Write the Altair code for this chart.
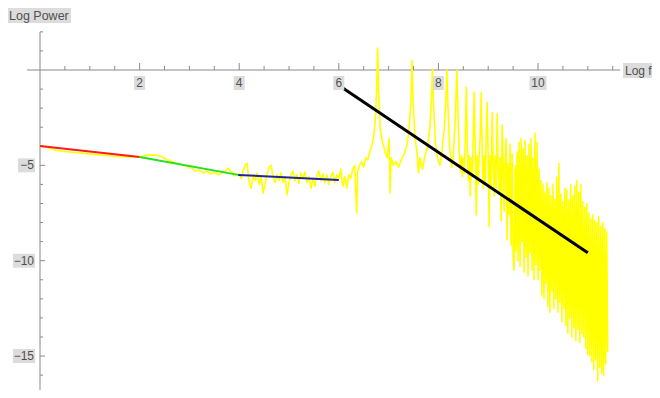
import altair as alt
import pandas as pd
import numpy as np

# ---------------- data ----------------
# yellow spectrum, part 1: low frequencies (x, y pairs)
spec1_x = [0.0, 0.1, 0.2, 0.3, 0.45, 0.6, 0.75, 0.9, 1.05, 1.2, 1.35, 1.5, 1.65, 1.8, 1.95,
           2.05, 2.15, 2.25, 2.35, 2.45, 2.55, 2.65, 2.75, 2.85, 2.95, 3.05, 3.12, 3.2, 3.28,
           3.35, 3.42, 3.5, 3.58, 3.65, 3.72, 3.78, 3.84, 3.9, 3.95]
spec1_y = [-3.95, -4.02, -4.12, -4.2, -4.26, -4.3, -4.34, -4.37, -4.41, -4.45, -4.48, -4.52, -4.54, -4.56, -4.56,
           -4.52, -4.47, -4.45, -4.47, -4.55, -4.7, -4.8, -4.9, -4.97, -5.05, -5.15, -5.3, -5.25, -5.4,
           -5.3, -5.45, -5.35, -5.5, -5.4, -5.3, -5.15, -5.35, -5.55, -5.45]

# part 2: noisy plateau, x from 4.00 step 0.04
spec2_start, spec2_step = 4.00, 0.04
spec2_y = [-5.45, -5.7, -5.3, -5.0, -4.9, -5.9, -6.2, -5.5, -5.8, -5.4, -6.0, -5.6, -6.45, -6.0, -5.4,
           -5.1, -5.0, -5.6, -5.9, -5.5, -5.8, -5.4, -5.9, -5.6, -6.55, -5.9, -5.5, -5.3, -5.8, -5.5,
           -5.95, -5.4, -5.7, -5.35, -5.9, -5.6, -6.2, -5.7, -6.1, -5.5, -5.3, -5.8, -5.45, -5.9, -5.5,
           -6.0, -5.6, -5.35, -5.9, -5.5, -5.7]

# part 3: harmonic peaks (x, y pairs)
spec3_x = [6.04, 6.08, 6.12, 6.16, 6.20, 6.24, 6.28, 6.32, 6.36, 6.38, 6.42, 6.46, 6.50, 6.54, 6.58,
           6.62, 6.66, 6.70, 6.73, 6.76, 6.78, 6.80, 6.83, 6.87, 6.92, 6.97, 7.01, 7.03, 7.05, 7.10,
           7.15, 7.20, 7.25, 7.30, 7.36, 7.41, 7.45, 7.47, 7.49, 7.53, 7.57, 7.60, 7.63, 7.68, 7.73,
           7.78, 7.83, 7.86, 7.88, 7.90, 7.94, 7.99, 8.03, 8.07, 8.12, 8.15, 8.17, 8.19, 8.23, 8.27,
           8.30, 8.34, 8.37, 8.39]
spec3_y = [-5.2, -6.1, -5.6, -6.2, -5.5, -5.7, -5.2, -5.0, -7.5, -5.3, -5.0, -4.8, -5.1, -4.6, -4.7,
           -4.3, -4.0, -3.5, -2.8, -1.0, 1.15, -1.2, -3.0, -3.7, -4.2, -4.6, -3.6, -6.45, -4.6, -5.0,
           -4.8, -5.1, -4.7, -4.5, -4.0, -3.2, -1.5, 0.5, -1.5, -3.6, -4.3, -5.4, -4.6, -5.2, -4.5,
           -4.0, -3.0, -1.5, 0.05, -1.6, -3.8, -4.7, -5.0, -4.3, -3.0, -1.5, 0.0, -1.8, -4.2, -5.1,
           -4.5, -2.5, 0.0, -2.0]

# part 4: dense high-frequency band, x from 8.42 step 0.02
spec4_start, spec4_step = 8.42, 0.02
spec4_y = [-4.4, -5.3, -4.5, -5.6, -4.6, -5.4, -3.6, -0.9, -3.8, -5.8,
           -4.5, -6.6, -4.6, -5.6, -3.5, -1.15, -4.2, -7.6, -4.5, -6.0,
           -4.4, -3.4, -1.2, -4.3, -6.2, -4.5, -6.0, -3.5, -1.7, -4.6,
           -8.2, -4.5, -6.1, -2.25, -4.6, -6.6, -4.5, -6.2, -2.3, -5.0,
           -6.4, -4.6, -7.9, -2.9, -5.0, -7.4, -4.8, -3.6, -8.9, -4.9,
           -7.6, -3.9, -9.2, -4.4, -9.8, -10.5, -5.0, -9.5, -4.3, -10.0,
           -3.8, -10.3, -3.6, -9.0, -4.1, -10.6, -3.7, -9.8, -4.5, -10.8,
           -3.9, -9.6, -3.6, -10.5, -4.6, -11.0, -3.3, -10.2, -3.8, -11.0,
           -5.2, -10.5, -5.8, -11.8, -6.0, -12.0, -6.4, -11.2, -5.9, -12.4,
           -6.2, -12.7, -6.6, -11.6, -6.0, -12.5, -6.8, -12.0, -5.6, -12.7,
           -4.9, -12.2, -6.5, -13.2, -6.9, -12.5, -6.2, -13.4, -6.3, -13.8,
           -6.8, -13.0, -6.0, -14.0, -6.6, -13.5, -6.1, -14.2, -5.8, -13.6,
           -6.4, -14.3, -6.0, -13.8, -6.9, -14.0, -7.2, -14.6, -7.0, -14.9,
           -7.5, -15.0, -7.8, -15.3, -7.6, -15.7, -7.9, -15.2, -8.0, -16.3,
           -7.7, -15.6, -8.2, -15.9, -8.0, -16.0, -8.3, -15.4, -8.5, -14.8]

# fitted power-law segments
fit_names = ["red", "green", "blue", "black"]
fit_x0 = [0.0, 2.0, 3.98, 6.08]
fit_y0 = [-3.98, -4.56, -5.5, -0.95]
fit_x1 = [2.0, 3.98, 6.0, 11.0]
fit_y1 = [-4.56, -5.5, -5.77, -9.58]
fit_colors = ["#ff1a1a", "#22e022", "#1f24a0", "#000000"]
fit_widths = [2, 2, 2, 3]

# tick labels
x_label_vals = [2, 4, 6, 8, 10]
y_label_vals = [-5, -10, -15]
x_minor = [i * 0.5 for i in range(1, 24)]
y_minor = list(range(-17, 3))

# ---------------- build tables ----------------
spec2_x = np.round(spec2_start + spec2_step * np.arange(len(spec2_y)), 3)
spec4_x = np.round(spec4_start + spec4_step * np.arange(len(spec4_y)), 3)
spec = pd.DataFrame({
    "x": list(spec1_x) + list(spec2_x) + list(spec3_x) + list(spec4_x),
    "y": list(spec1_y) + list(spec2_y) + list(spec3_y) + list(spec4_y),
})
spec["i"] = range(len(spec))

fits = pd.DataFrame({
    "name": fit_names * 2,
    "x": fit_x0 + fit_x1,
    "y": fit_y0 + fit_y1,
    "w": fit_widths * 2,
})

PX_X = 49.8   # px per x unit
PX_Y = 19.07  # px per y unit
xs = alt.Scale(domain=[-32 / PX_X, 612 / PX_X], nice=False, zero=False)
ys = alt.Scale(domain=[(62 - 382) / PX_Y, 62 / PX_Y], nice=False, zero=False)

def X(f):
    return alt.X(f + ":Q", scale=xs, axis=None)

def Y(f):
    return alt.Y(f + ":Q", scale=ys, axis=None)

AX = "#8a8a8a"
TXT = "#505050"
BOX = "#dcdcdc"
FONT = "Liberation Sans"

# axes lines
axes_df = pd.DataFrame({"x": [-0.26, 0.0], "x2": [11.65, 0.0], "y": [0.0, 2.0], "y2": [0.0, -17.5]})
axes = alt.Chart(axes_df).mark_rule(color=AX, strokeWidth=1).encode(
    x=X("x"), x2="x2:Q", y=Y("y"), y2="y2:Q")

# x ticks (pointing up)
xt = pd.DataFrame({"x": x_minor})
xt["major"] = xt["x"].isin(x_label_vals)
xt["y0"] = 0.0
xt["y1"] = np.where(xt["major"], 7 / PX_Y, 4 / PX_Y)
xticks = alt.Chart(xt).mark_rule(color=AX, strokeWidth=1).encode(
    x=X("x"), y=Y("y0"), y2="y1:Q")

yt = pd.DataFrame({"y": [v for v in y_minor if v != 0]})
yt["major"] = yt["y"].isin(y_label_vals)
yt["x0"] = 0.0
yt["x1"] = np.where(yt["major"], 5 / PX_X, 3 / PX_X)
yticks = alt.Chart(yt).mark_rule(color=AX, strokeWidth=1).encode(
    y=Y("y"), x=X("x0"), x2="x1:Q")

# yellow spectrum
yellow = alt.Chart(spec).mark_line(color="#ffff00", strokeWidth=1.6, strokeJoin="round").encode(
    x=X("x"), y=Y("y"), order="i:Q")

# fit lines
fit_layers = []
for n, c, w in zip(fit_names, fit_colors, fit_widths):
    fit_layers.append(
        alt.Chart(fits[fits["name"] == n]).mark_line(color=c, strokeWidth=w).encode(
            x=X("x"), y=Y("y")))

# x tick labels with grey boxes
xl = pd.DataFrame({"v": x_label_vals})
xl["t"] = xl["v"].astype(str)
xl["half"] = np.where(xl["v"] >= 10, 8.5, 5.5) / PX_X
xl["xa"] = xl["v"] - xl["half"]
xl["xb"] = xl["v"] + xl["half"]
xl["ya"] = -6 / PX_Y
xl["yb"] = -20 / PX_Y
xl["yc"] = -13 / PX_Y
xbox = alt.Chart(xl).mark_rect(color=BOX).encode(x=X("xa"), x2="xb:Q", y=Y("ya"), y2="yb:Q")
xtxt = alt.Chart(xl).mark_text(font=FONT, fontSize=12, color=TXT, baseline="middle", align="center").encode(
    x=X("v"), y=Y("yc"), text="t:N")

yl = pd.DataFrame({"v": y_label_vals})
yl["t"] = ["\u22125", "\u221210", "\u221215"]
yl["xa"] = np.where(yl["v"] <= -10, -27 / PX_X, -22 / PX_X)
yl["xb"] = -5 / PX_X
yl["ya"] = yl["v"] + 7 / PX_Y
yl["yb"] = yl["v"] - 7 / PX_Y
yl["xt"] = -6 / PX_X
ybox = alt.Chart(yl).mark_rect(color=BOX).encode(x=X("xa"), x2="xb:Q", y=Y("ya"), y2="yb:Q")
ytxt = alt.Chart(yl).mark_text(font=FONT, fontSize=12, color=TXT, baseline="middle", align="right").encode(
    x=X("xt"), y=Y("v"), text="t:N")

# axis titles
tdf = pd.DataFrame({"t": ["Log Power"]})
tbox = alt.Chart(tdf).mark_rect(color=BOX).encode(
    x=alt.value(0), x2=alt.value(63), y=alt.value(0), y2=alt.value(15))
ttxt = alt.Chart(tdf).mark_text(font=FONT, fontSize=12.5, color=TXT, baseline="middle", align="left").encode(
    x=alt.value(1), y=alt.value(8), text="t:N")
fdf = pd.DataFrame({"t": ["Log f"]})
fbox = alt.Chart(fdf).mark_rect(color=BOX).encode(
    x=alt.value(615), x2=alt.value(644), y=alt.value(55), y2=alt.value(70))
ftxt = alt.Chart(fdf).mark_text(font=FONT, fontSize=12, color=TXT, baseline="middle", align="left").encode(
    x=alt.value(617), y=alt.value(63), text="t:N")

chart = alt.layer(
    axes, xticks, yticks, yellow, *fit_layers,
    xbox, xtxt, ybox, ytxt, tbox, ttxt, fbox, ftxt
).properties(
    width=644, height=382, padding=0,
    autosize=alt.AutoSizeParams(type="none"),
    background="white",
).configure_view(stroke=None)

chart.save("out.html", embed_options={"renderer": "svg", "actions": False})
